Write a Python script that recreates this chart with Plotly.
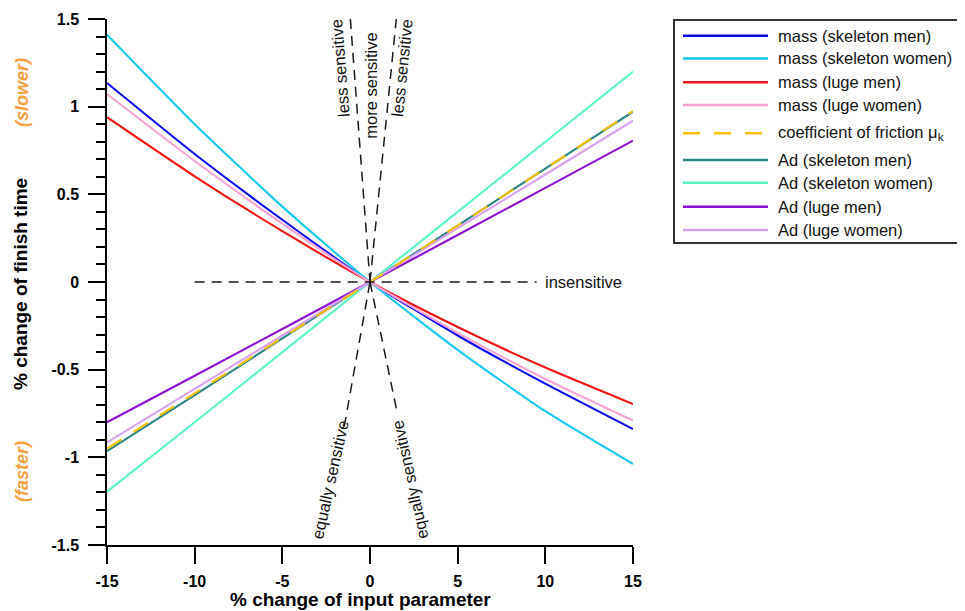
import plotly.graph_objects as go

# ---------------- data ----------------
pct_change = [-15, -10, -5, 0, 5, 10, 15]

mass_skeleton_men = [1.135, 0.73, 0.355, 0, -0.305, -0.58, -0.839]
mass_skeleton_women = [1.41, 0.90, 0.43, 0, -0.387, -0.737, -1.038]
mass_luge_men = [0.94, 0.603, 0.29, 0, -0.257, -0.488, -0.696]
mass_luge_women = [1.072, 0.69, 0.333, 0, -0.29, -0.553, -0.79]
friction_mu_k = [-0.95, -0.635, -0.318, 0, 0.322, 0.647, 0.975]
ad_skeleton_men = [-0.965, -0.645, -0.322, 0, 0.322, 0.647, 0.971]
ad_skeleton_women = [-1.196, -0.80, -0.40, 0, 0.40, 0.80, 1.20]
ad_luge_men = [-0.80, -0.535, -0.268, 0, 0.268, 0.537, 0.806]
ad_luge_women = [-0.915, -0.61, -0.305, 0, 0.307, 0.613, 0.92]

series_names = [
    "mass (skeleton men)", "mass (skeleton women)", "mass (luge men)",
    "mass (luge women)", "coefficient of friction μ<sub>k</sub>",
    "Ad (skeleton men)", "Ad (skeleton women)", "Ad (luge men)", "Ad (luge women)",
]
series_values = [
    mass_skeleton_men, mass_skeleton_women, mass_luge_men, mass_luge_women,
    friction_mu_k, ad_skeleton_men, ad_skeleton_women, ad_luge_men, ad_luge_women,
]
series_colors = ["#0a0af0", "#14c8f0", "#f01414", "#f7a3d3", "#f5c000",
                 "#2a8585", "#5cf5c8", "#8c12d0", "#d8a2f0"]
series_dash = ["solid", "solid", "solid", "solid", "17px,14px",
               "solid", "solid", "solid", "solid"]

x_ticks = [-15, -10, -5, 0, 5, 10, 15]
x_ticklabels = ["-15", "-10", "-5", "0", "5", "10", "15"]
y_ticks = [-1.5, -1, -0.5, 0, 0.5, 1, 1.5]
y_ticklabels = ["-1.5", "-1", "-0.5", "0", "0.5", "1", "1.5"]

# sensitivity guide lines (end points in data units, all pass through origin)
guide_insensitive = ([-10, 9.5], [0, 0])
guide_upper_left = ([-1.12, 0], [1.5, 0])
guide_upper_right = ([0, 1.5], [0, 1.5])
guide_lower_left = ([-1.47, 0], [-0.825, 0])
guide_lower_right = ([0, 1.52], [0, -0.73])

# ---------------- figure ----------------
FONT = "Liberation Sans, Arial, sans-serif"
OFF = 8                      # browser body margin
W, H = 965 - OFF, 611 - OFF
PL, PR, PT, PB = 107, 633, 19, 545   # plot area in page pixels
ML, MT = PL - OFF, PT - OFF
MR, MB = W - (PR - OFF), H - (PB - OFF)
PW, PH = PR - PL, PB - PT


def px_x(px):
    return (px - PL) / PW


def px_y(py):
    return (PB - py) / PH


fig = go.Figure()

draw_order = [0, 1, 2, 3, 5, 6, 7, 8, 4]
for i in draw_order:
    fig.add_trace(go.Scatter(
        x=pct_change, y=series_values[i], mode="lines", name=series_names[i],
        line=dict(color=series_colors[i], width=2.1, dash=series_dash[i], shape="spline", smoothing=0.6),
        showlegend=False, hoverinfo="skip",
    ))

ref_dash = dict(color="#1a1a1a", width=1.5, dash="10px,7px")
shapes = []
for gx, gy in [guide_insensitive, guide_upper_left, guide_upper_right,
               guide_lower_left, guide_lower_right]:
    shapes.append(dict(type="line", xref="x", yref="y", x0=gx[0], y0=gy[0],
                       x1=gx[1], y1=gy[1], line=ref_dash, layer="above"))

txt = dict(size=16.5, color="#111")
annotations = [
    dict(x=9.85, y=0, xref="x", yref="y", text="insensitive", showarrow=False,
         xanchor="left", yanchor="middle", font=txt),
    dict(x=-1.71, y=1.22, xref="x", yref="y", text="less sensitive", showarrow=False,
         textangle=-94.5, font=txt),
    dict(x=0.06, y=1.12, xref="x", yref="y", text="more sensitive", showarrow=False,
         textangle=-90, font=txt),
    dict(x=1.82, y=1.22, xref="x", yref="y", text="less sensitive", showarrow=False,
         textangle=-84.3, font=txt),
    dict(x=-2.28, y=-1.13, xref="x", yref="y", text="equally sensitive", showarrow=False,
         textangle=-77.5, font=txt),
    dict(x=2.28, y=-1.125, xref="x", yref="y", text="equally sensitive", showarrow=False,
         textangle=-102.3, font=txt),
    # axis titles
    dict(x=px_x(360), y=px_y(599), xref="paper", yref="paper", text="% change of input parameter",
         showarrow=False, xanchor="center", yanchor="middle",
         font=dict(size=19, color="black", weight="bold")),
    dict(x=px_x(21), y=px_y(284), xref="paper", yref="paper", text="% change of finish time",
         showarrow=False, textangle=-90, xanchor="center", yanchor="middle",
         font=dict(size=19, color="black", weight="bold")),
    dict(x=px_x(22), y=px_y(93), xref="paper", yref="paper", text="<i>(slower)</i>",
         showarrow=False, textangle=-90, xanchor="center", yanchor="middle",
         font=dict(size=18, color="#f7a040", weight="bold")),
    dict(x=px_x(22), y=px_y(472), xref="paper", yref="paper", text="<i>(faster)</i>",
         showarrow=False, textangle=-90, xanchor="center", yanchor="middle",
         font=dict(size=18, color="#f7a040", weight="bold")),
]

# ---------------- legend box (drawn) ----------------
legend_rows_px = [35.7, 58.5, 82.3, 105, 133.3, 160, 182.7, 206.7, 230]
shapes.append(dict(type="rect", xref="paper", yref="paper",
                   x0=px_x(674), x1=px_x(963), y0=px_y(20), y1=px_y(243),
                   line=dict(color="#333", width=2), fillcolor="rgba(0,0,0,0)"))
for i, ry in enumerate(legend_rows_px):
    shapes.append(dict(type="line", xref="paper", yref="paper",
                       x0=px_x(683), x1=px_x(768), y0=px_y(ry), y1=px_y(ry),
                       line=dict(color=series_colors[i], width=2.5, dash=series_dash[i])))
    annotations.append(dict(x=px_x(776), y=px_y(ry), xref="paper", yref="paper",
                            text=series_names[i], showarrow=False, xanchor="left",
                            yanchor="middle", font=txt))

fig.update_layout(
    width=W, height=H,
    margin=dict(l=ML, r=MR, t=MT, b=MB, autoexpand=False),
    plot_bgcolor="white", paper_bgcolor="white",
    font=dict(family=FONT, color="black"),
    showlegend=False,
    shapes=shapes, annotations=annotations,
    xaxis=dict(
        range=[-15, 15], tickvals=x_ticks, ticktext=x_ticklabels,
        showgrid=False, zeroline=False, showline=True, linecolor="black", linewidth=1.5,
        ticks="outside", ticklen=17, tickwidth=1.5, tickcolor="black",
        tickfont=dict(size=16, weight="bold", color="black"), ticklabelstandoff=4,
    ),
    yaxis=dict(
        range=[-1.5, 1.5], tickvals=y_ticks, ticktext=y_ticklabels,
        showgrid=False, zeroline=False, showline=True, linecolor="black", linewidth=1.5,
        ticks="outside", ticklen=17, tickwidth=1.5, tickcolor="black",
        tickfont=dict(size=16, weight="bold", color="black"), ticklabelstandoff=6,
        minor=dict(dtick=0.1, tick0=0, ticks="outside", ticklen=9, tickwidth=1.5,
                   tickcolor="black", showgrid=False),
    ),
)

fig.write_html("out.html")
